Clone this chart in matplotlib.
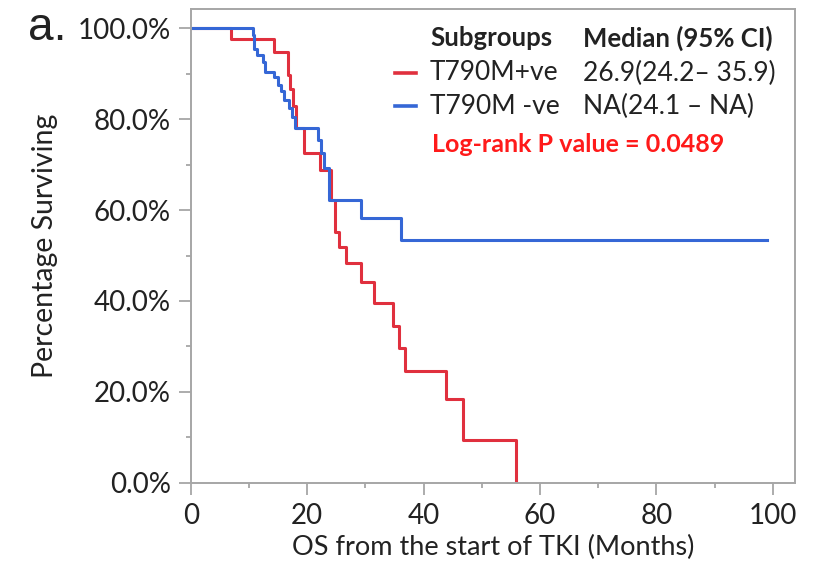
import matplotlib
matplotlib.use("Agg")
import matplotlib.pyplot as plt
from matplotlib.ticker import MultipleLocator, FuncFormatter

plt.rcParams['font.family'] = ['Lato', 'DejaVu Sans']

# Kaplan-Meier steps (months, % surviving)
pos_t = [0, 6.8, 14.2, 16.7, 17.1, 17.6, 18.1, 19.4, 22.2, 24.0, 24.7, 25.5,
         26.6, 29.3, 31.4, 34.8, 35.7, 36.8, 43.8, 46.8, 55.9]
pos_s = [100, 97.6, 94.8, 89.7, 86.7, 83.0, 78.0, 72.5, 68.9, 62.3, 55.2, 51.9,
         48.3, 44.1, 39.5, 34.5, 29.6, 24.7, 18.5, 9.3, 0]

neg_t = [0, 10.6, 10.8, 11.4, 12.4, 12.7, 14.3, 14.9, 15.4, 16.0, 16.9, 17.4,
         17.9, 21.8, 22.3, 22.9, 23.8, 29.2, 36.1, 99.1]
neg_s = [100, 98.5, 95.5, 94.1, 92.6, 90.4, 89.3, 87.5, 86.1, 84.2, 82.4, 80.5,
         78.0, 75.4, 72.5, 69.2, 62.3, 58.3, 53.4, 53.4]

groups = ['T790M+ve', 'T790M -ve']
medians = ['26.9(24.2\u2013 35.9)', 'NA(24.1 \u2013 NA)']
p_text = 'Log-rank P value = 0.0489'

red = '#e0303e'
blue = '#3567d6'
grey = '#a6a6a6'
ink = '#222222'

fig = plt.figure(figsize=(8.16, 5.72), dpi=100)
ax = fig.add_axes([0.234, 0.156, 0.74, 0.828])

ax.plot(pos_t, pos_s, drawstyle='steps-post', color=red, lw=2.2)
ax.plot(neg_t, neg_s, drawstyle='steps-post', color=blue, lw=2.2)

ax.set_xlim(0, 103.8)
ax.set_ylim(0, 104.2)
ax.xaxis.set_major_locator(MultipleLocator(20))
ax.xaxis.set_minor_locator(MultipleLocator(10))
ax.yaxis.set_major_locator(MultipleLocator(20))
ax.yaxis.set_minor_locator(MultipleLocator(10))
ax.yaxis.set_major_formatter(FuncFormatter(lambda v, p: f'{v:.1f}%'))

for s in ax.spines.values():
    s.set_color(grey)
    s.set_linewidth(1.4)
ax.tick_params(which='major', length=8.5, width=1.3, color=grey,
               labelsize=20, labelcolor=ink, pad=6)
ax.tick_params(which='minor', length=3.8, width=1.3, color=grey)

ax.set_xlabel('OS from the start of TKI (Months)', fontsize=19.5, color=ink, labelpad=4)
ax.set_ylabel('Percentage Surviving', fontsize=20.5, color=ink, labelpad=14)

W, H = 816, 572


def ftext(x, y, s, **kw):
    fig.text(x / W, 1 - y / H, s, va='center', **kw)


ftext(28, 28, 'a.', fontsize=33, family=['Liberation Sans', 'DejaVu Sans'], color=ink)

ftext(430, 38, 'Subgroups', fontsize=18.5, fontweight='bold', color=ink)
ftext(583, 38, 'Median (95% CI)', fontsize=18.5, fontweight='bold', color=ink)
rows_y = [73, 106]
for name, med, col, yy in zip(groups, medians, [red, blue], rows_y):
    fig.add_artist(plt.Line2D([395 / W, 416 / W], [1 - yy / H, 1 - yy / H],
                              color=col, lw=2.6))
    ftext(430, yy, name, fontsize=19, color=ink)
    ftext(583, yy, med, fontsize=19, color=ink)
ftext(432, 144, p_text, fontsize=18, fontweight='bold', color='#ff1a1a')

fig.savefig('out.png', dpi=100)
